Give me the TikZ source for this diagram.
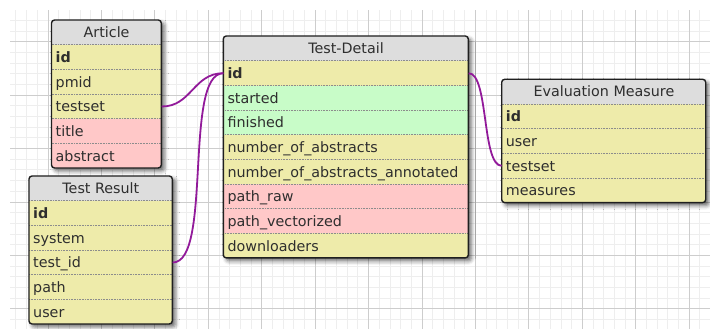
\documentclass[tikz,border=0pt]{standalone}
\usepackage{fontspec}
\newfontfamily\erfont{DejaVu Sans}
\usetikzlibrary{shadows.blur}

\definecolor{erhead}{HTML}{DDDDDD}
\definecolor{eryel}{HTML}{EEEBAA}
\definecolor{ergrn}{HTML}{C8FCC8}
\definecolor{erpnk}{HTML}{FFC8C8}
\definecolor{ertext}{HTML}{2E2E2E}
\definecolor{erlink}{HTML}{921A9A}
\definecolor{gridminor}{HTML}{EEEEEE}
\definecolor{gridmajor}{HTML}{CDCDCD}

\tikzset{
  erfontsize/.style={font=\erfont\fontsize{14.3}{16}\selectfont},
  hdr/.style={erfontsize, fill=erhead, text=ertext, inner sep=0pt,
    minimum height=24.7pt, text height=13pt, text depth=3pt},
  fld/.style={erfontsize, text=ertext, inner xsep=4pt, inner ysep=0pt,
    minimum height=24.65pt, text height=13pt, text depth=2.5pt, align=left},
  sep/.style={draw=black!45, line width=0.6pt, dash pattern=on 0.8pt off 0.8pt},
  tblframe/.style={draw=black!88, line width=1.4pt, rounded corners=3pt},
  tblshadow/.style={fill=white, rounded corners=3pt,
    blur shadow={shadow xshift=3pt, shadow yshift=-3pt,
      shadow blur radius=4pt, shadow opacity=60}},
  link/.style={draw=erlink, line width=1.8pt},
}

% \ertable{name}{left}{top}{width}{title}{colour/field list}{number of fields}
\newcommand\ertable[7]{%
  \pgfmathsetmacro\ertw{#4-8}%
  \pgfmathsetmacro\erh{24.7+#7*24.65}%
  \path[tblshadow] (#2,#3) rectangle ++(#4,\erh);
  \begin{scope}
    \clip[rounded corners=3pt] (#2,#3) rectangle ++(#4,\erh);
    \node[hdr, minimum width=#4pt, anchor=north west] (#1) at (#2,#3) {#5};
    \foreach \fc/\ft [count=\i] in {#6} {
      \node[fld, fill=\fc, text width=\ertw pt, anchor=north west]
        (#1-\i) at (#2,{#3+24.7+(\i-1)*24.65}) {\ft};
      \draw[sep] (#1-\i.north west) -- (#1-\i.north east);
    }
  \end{scope}
  \draw[tblframe] (#2,#3) rectangle ++(#4,\erh);
}

\begin{document}
\begin{tikzpicture}[x=1pt, y=-1pt]
  \useasboundingbox (0,0) rectangle (710,329);

  % background grid
  \begin{scope}
    \clip (10,11) rectangle (710,329);
    \foreach \k in {0,...,66}
      \draw[gridminor, line width=1pt] ({5.25+10.688*\k},0) -- ++(0,340);
    \foreach \k in {0,...,30}
      \draw[gridminor, line width=1pt] (0,{9.64+10.688*\k}) -- ++(720,0);
    \foreach \k in {0,...,13}
      \draw[gridmajor, line width=1pt] ({48+53.44*\k},0) -- ++(0,340);
    \foreach \k in {0,...,6}
      \draw[gridmajor, line width=1pt] (0,{41.7+53.44*\k}) -- ++(720,0);
  \end{scope}

  % tables
  \ertable{art}{51.5}{20}{109.8}{Article}
    {eryel/\textbf{id}, eryel/pmid, eryel/testset, erpnk/title, erpnk/abstract}{5}
  \ertable{res}{29}{176}{143.3}{Test Result}
    {eryel/\textbf{id}, eryel/system, eryel/test\_id, eryel/path, eryel/user}{5}
  \ertable{det}{223.3}{36}{245}{Test-Detail}
    {eryel/\textbf{id}, ergrn/started, ergrn/finished, eryel/number\_of\_abstracts,
     eryel/number\_of\_abstracts\_annotated, erpnk/path\_raw,
     erpnk/path\_vectorized, eryel/downloaders}{8}
  \ertable{eva}{501.7}{79.3}{204}{Evaluation Measure}
    {eryel/\textbf{id}, eryel/user, eryel/testset, eryel/measures}{4}

  % relations
  \draw[link] (art-3.east) .. controls +(30,0) and +(-30,0) .. (det-1.west);
  \draw[link] (res-3.east) .. controls +(40,0) and +(-40,0) .. (det-1.west);
  \draw[link] (det-1.east) .. controls +(20,0) and +(-20,0) .. (eva-3.west);
\end{tikzpicture}
\end{document}
